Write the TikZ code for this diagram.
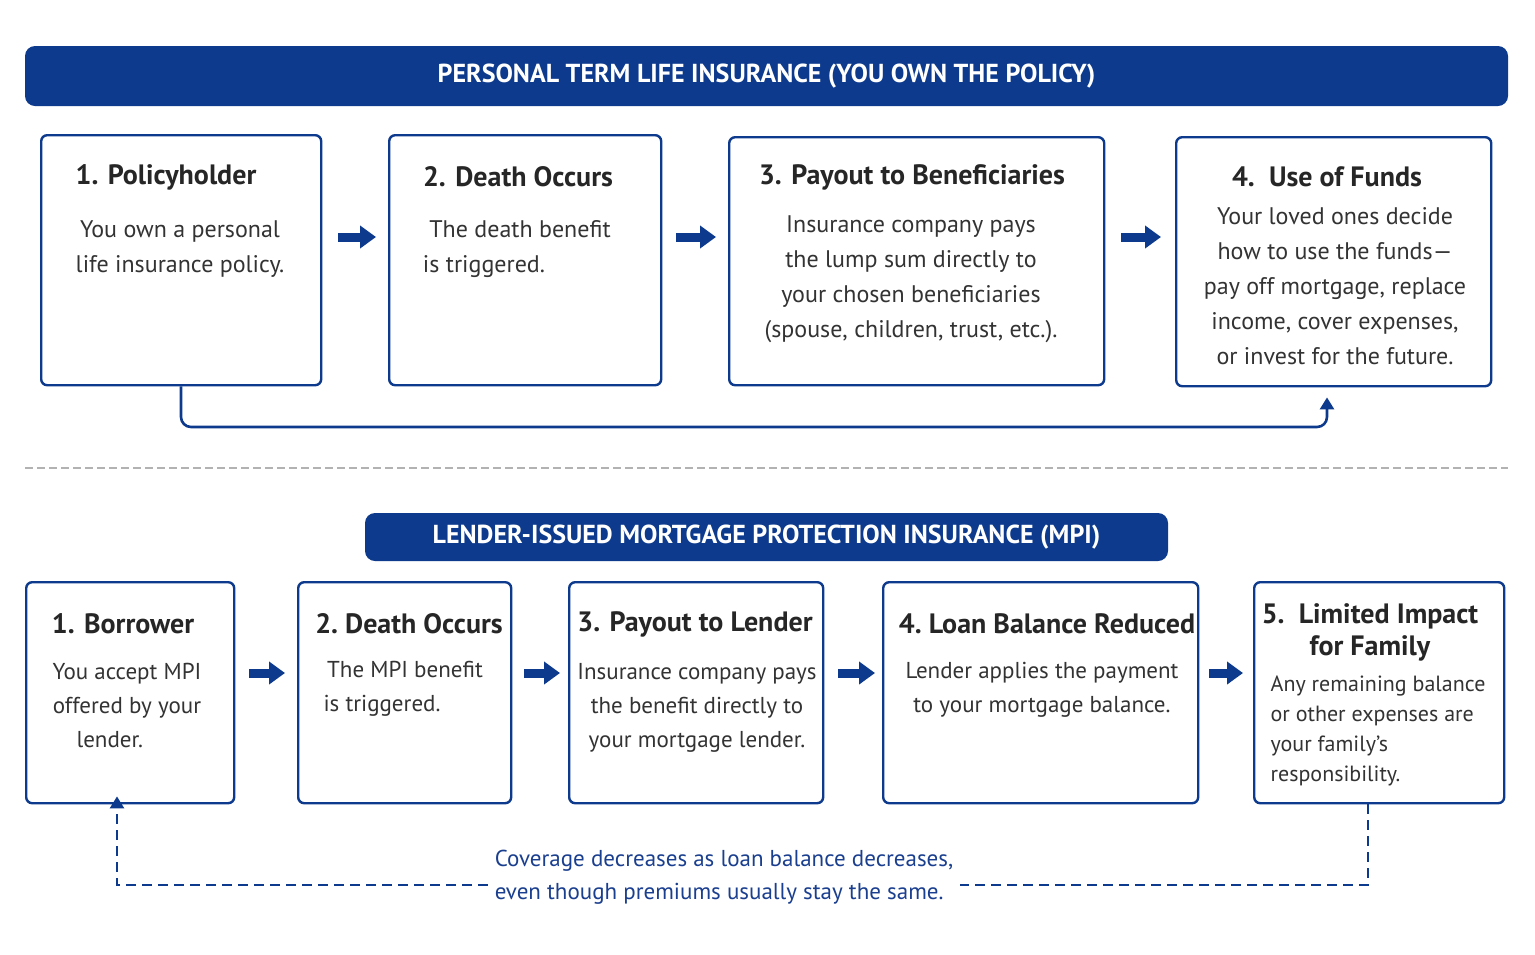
\documentclass[tikz,border=0pt]{standalone}
\usepackage{fontspec}
\setmainfont{PT Sans}
\usetikzlibrary{arrows.meta}
\definecolor{nb}{HTML}{0D3A8C}
\definecolor{tb}{HTML}{1B3F8F}
\begin{document}
\begin{tikzpicture}[x=0.5pt,y=-0.5pt,
 box/.style={draw=nb,line width=1.2pt,rounded corners=3pt,anchor=north west,inner sep=0},
 banner/.style={fill=nb,rounded corners=5pt,text=white,font=\bfseries\fontsize{13}{15}\selectfont},
 ttl/.style={font=\bfseries\fontsize{14}{16}\selectfont,text=black!85,align=center},
 bdy/.style={font=\fontsize{12}{17.5}\selectfont,text=black!80,align=center},
 bdys/.style={font=\fontsize{11.5}{17}\selectfont,text=black!80,align=center},
 blk/.style={nb,line width=4.5pt,-{Triangle[width=11pt,length=8pt]}},
 con/.style={nb,line width=1.3pt,-{Triangle[width=7pt,length=6pt]}},
 dcon/.style={nb,line width=1.3pt,dash pattern=on 5pt off 3pt,-{Triangle[width=7pt,length=6pt]}}]
\fill[white] (0,0) rectangle (1535,954);
\useasboundingbox (0,0) rectangle (1535,954);
% banners
\node[banner,minimum width=741.5pt,minimum height=30pt] (b1) at (766.5,76) {PERSONAL TERM LIFE INSURANCE (YOU OWN THE POLICY)};
\node[banner,minimum width=401.5pt,minimum height=24pt] (b2) at (766.5,537) {LENDER-ISSUED MORTGAGE PROTECTION INSURANCE (MPI)};
% top boxes
\node[box,minimum width=140pt,minimum height=125pt] (t1) at (40,134) {};
\node[box,minimum width=136pt,minimum height=125pt] (t2) at (388,134) {};
\node[box,minimum width=187.5pt,minimum height=124pt] (t3) at (728,136) {};
\node[box,minimum width=157.5pt,minimum height=124.5pt] (t4) at (1175,136) {};
\node[ttl] (t1h) at (166,177) {1. Policyholder};
\node[bdy] (t1b) at (180,249) {You own a personal\\life insurance policy.};
\node[ttl] (t2h) at (518,177) {2. Death Occurs};
\node[bdy] (t2b) at (520,249) {The death benefit\\is triggered.\hspace*{3em}};
\node[ttl] (t3h) at (912,177) {3. Payout to Beneficiaries};
\node[bdy] (t3b) at (911,279) {Insurance company pays\\the lump sum directly to\\your chosen beneficiaries\\(spouse, children, trust, etc.).};
\node[ttl] (t4h) at (1327,177) {4.\ \ Use of Funds};
\node[bdy] (t4b) at (1335,286) {Your loved ones decide\\how to use the funds—\\pay off mortgage, replace\\income, cover expenses,\\or invest for the future.};
\draw[blk,shorten <=15pt/2*2-7pt,shorten >=6pt] (t1.east|-0,237) -- (t2.west|-0,237);
\draw[blk,shorten <=7pt,shorten >=6pt] (t2.east|-0,237) -- (t3.west|-0,237);
\draw[blk,shorten <=8pt,shorten >=7pt] (t3.east|-0,237) -- (t4.west|-0,237);
\coordinate (c1) at (181,427); \coordinate (c2) at (1327,427);
\draw[con,rounded corners=5pt] (t1.south-|c1) -- (c1) -- (c2) -- ([yshift=-5pt]t4.south-|c2);
% separator
\draw[gray!60,dash pattern=on 4pt off 2pt,line width=0.6pt] (25,468) -- (1508,468);
% bottom boxes
\node[box,minimum width=104pt,minimum height=110.5pt] (m1) at (25,581) {};
\node[box,minimum width=106.5pt,minimum height=110.5pt] (m2) at (297,581) {};
\node[box,minimum width=127pt,minimum height=110.5pt] (m3) at (568,581) {};
\node[box,minimum width=157.5pt,minimum height=110.5pt] (m4) at (882,581) {};
\node[box,minimum width=125pt,minimum height=110.5pt] (m5) at (1253,581) {};
\node[ttl] (m1h) at (123,624) {1. Borrower};
\node[bdys] (m1b) at (127,705) {You accept MPI\\offered by your\\lender.\hspace*{1.5em}};
\node[ttl] (m2h) at (409,624) {2.\ Death Occurs};
\node[bdys] (m2b) at (405,689) {The MPI benefit\\is triggered.\hspace*{2em}};
\node[ttl] (m3h) at (695,624) {3. Payout to Lender};
\node[bdys] (m3b) at (697,708) {Insurance company pays\\the benefit directly to\\your mortgage lender.};
\node[ttl] (m4h) at (1047,624) {4.\ Loan Balance Reduced};
\node[bdys] (m4b) at (1042,690) {Lender applies the payment\\to your mortgage balance.};
\node[ttl] (m5h) at (1370,632) {5.\ \ Limited Impact\\for Family};
\node[font=\fontsize{11}{15}\selectfont,text=black!80,align=left] (m5b) at (1378,731) {Any remaining balance\\or other expenses are\\your family’s\\responsibility.};
\draw[blk,shorten <=7pt,shorten >=6pt] (m1.east|-0,673) -- (m2.west|-0,673);
\draw[blk,shorten <=6pt,shorten >=4pt] (m2.east|-0,673) -- (m3.west|-0,673);
\draw[blk,shorten <=7pt,shorten >=3.5pt] (m3.east|-0,673) -- (m4.west|-0,673);
\draw[blk,shorten <=5pt,shorten >=5pt] (m4.east|-0,673) -- (m5.west|-0,673);
\node[font=\fontsize{11.5}{16.5}\selectfont,text=tb,align=left] (note) at (724,877) {Coverage decreases as loan balance decreases,\\even though premiums usually stay the same.};
\coordinate (d1) at (1368,885); \coordinate (d2) at (117,885);
\draw[nb,line width=1.3pt,dash pattern=on 5pt off 3pt] (m5.south-|d1) -- (d1) -- (note.east|-d1);
\draw[dcon] (note.west|-d2) -- (d2) -- ([yshift=4pt]m1.south-|d2);
\end{tikzpicture}
\end{document}
